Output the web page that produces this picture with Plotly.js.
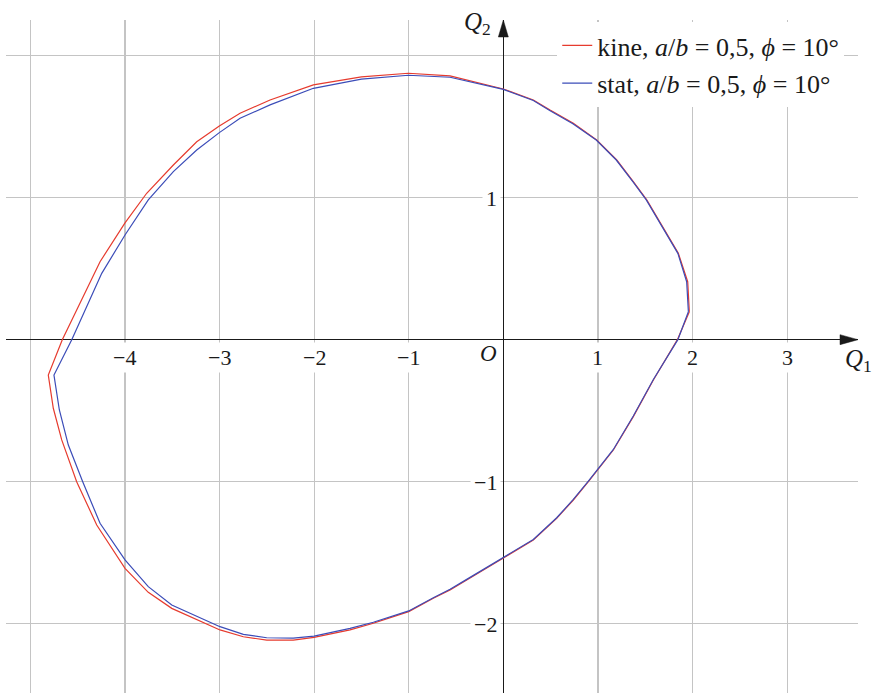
<!DOCTYPE html>
<html>
<head>
<meta charset="utf-8">
<script src="https://cdn.plot.ly/plotly-3.0.1.min.js"></script>
<style>
  html, body { margin: 0; padding: 0; background: #fff; }
  #chart { width: 873px; height: 693px; }
</style>
</head>
<body>
<div id="chart"></div>
<script>
// Yield locus in the (Q1, Q2) plane, kinematic vs static solution, a/b = 0,5, phi = 10 deg
const kineQ1 = [1.966, 1.949, 1.850, 1.674, 1.516, 1.374, 1.199, 0.987, 0.740, 0.494, 0.317, 0.000,
  -0.563, -1.004, -1.500, -2.008, -2.466, -2.783, -3.002, -3.241, -3.488, -3.770, -3.999, -4.263,
  -4.457, -4.662, -4.810, -4.757, -4.668, -4.510, -4.298, -3.999, -3.753, -3.505, -2.995, -2.748,
  -2.501, -2.220, -2.001, -1.620, -1.374, -1.000, -0.740, -0.563, -0.387, 0.000, 0.317, 0.564,
  0.740, 0.899, 1.163, 1.374, 1.586, 1.840];
const kineQ2 = [0.197, 0.408, 0.608, 0.808, 0.984, 1.113, 1.265, 1.406, 1.524, 1.617, 1.688, 1.765,
  1.857, 1.876, 1.850, 1.794, 1.688, 1.594, 1.505, 1.394, 1.230, 1.031, 0.822, 0.549,
  0.284, 0.000, -0.249, -0.483, -0.706, -1.000, -1.305, -1.610, -1.779, -1.892, -2.044, -2.092,
  -2.115, -2.115, -2.096, -2.044, -1.997, -1.915, -1.821, -1.762, -1.692, -1.540, -1.411, -1.258,
  -1.129, -1.000, -0.777, -0.542, -0.284, 0.000];

const statQ1 = [1.956, 1.938, 1.845, 1.669, 1.511, 1.369, 1.194, 0.982, 0.735, 0.490, 0.317, 0.000,
  -0.563, -1.004, -1.500, -2.008, -2.466, -2.783, -3.002, -3.241, -3.488, -3.753, -3.999, -4.245,
  -4.369, -4.562, -4.750, -4.693, -4.598, -4.446, -4.263, -3.999, -3.753, -3.505, -2.995, -2.748,
  -2.501, -2.220, -2.001, -1.620, -1.374, -1.000, -0.740, -0.563, -0.387, 0.000, 0.317, 0.564,
  0.740, 0.899, 1.163, 1.374, 1.586, 1.845];
const statQ2 = [0.197, 0.408, 0.608, 0.808, 0.984, 1.113, 1.265, 1.406, 1.520, 1.614, 1.684, 1.762,
  1.848, 1.862, 1.835, 1.770, 1.653, 1.559, 1.458, 1.336, 1.183, 0.984, 0.737, 0.467,
  0.284, 0.000, -0.249, -0.495, -0.742, -1.000, -1.293, -1.551, -1.739, -1.868, -2.021, -2.075,
  -2.099, -2.101, -2.087, -2.033, -1.990, -1.910, -1.817, -1.758, -1.688, -1.536, -1.407, -1.254,
  -1.125, -0.996, -0.773, -0.538, -0.280, 0.000];

const xTickVals = [-4, -3, -2, -1, 1, 2, 3];
const yTickVals = [-2, -1, 1];
const seriesNames = [
  'kine, <i>a</i>/<i>b</i> = 0,5, <i>ϕ</i> = 10°',
  'stat, <i>a</i>/<i>b</i> = 0,5, <i>ϕ</i> = 10°'
];

const xRange = [-5.257, 3.749];
const yRange = [-2.488, 2.251];
const serif = '"Liberation Serif", "DejaVu Serif", serif';
const ink = '#1a1a1a';

const closeLoop = a => a.concat([a[0]]);
const label = v => (v < 0 ? '\u2212' + Math.abs(v) : String(v));

const traces = [
  { x: closeLoop(kineQ1), y: closeLoop(kineQ2), name: seriesNames[0], legendgroup: 'k',
    mode: 'lines', line: { color: '#e63b2e', width: 1.2 } },
  { x: closeLoop(statQ1), y: closeLoop(statQ2), name: seriesNames[1], legendgroup: 's',
    mode: 'lines', line: { color: '#3b4cb8', width: 1.2 } }
];

const annotations = [];
xTickVals.forEach(v => annotations.push({
  x: v, y: 0, xref: 'x', yref: 'y', text: label(v), showarrow: false,
  xanchor: 'center', yanchor: 'top', yshift: -2, bgcolor: '#fff', borderpad: 2,
  font: { family: serif, size: 22, color: ink }
}));
yTickVals.forEach(v => annotations.push({
  x: 0, y: v, xref: 'x', yref: 'y', text: label(v), showarrow: false,
  xanchor: 'right', yanchor: 'middle', xshift: -2, yshift: -1, bgcolor: '#fff', borderpad: 3,
  font: { family: serif, size: 22, color: ink }
}));
annotations.push({
  x: 0, y: 0, xref: 'x', yref: 'y', text: '<i>O</i>', showarrow: false,
  xanchor: 'right', yanchor: 'top', xshift: -4, yshift: 1,
  font: { family: serif, size: 23, color: ink }
});
annotations.push({
  x: 1, y: 0, xref: 'paper', yref: 'y', text: '<i>Q</i><sub>1</sub>', showarrow: false,
  xanchor: 'center', yanchor: 'top', xshift: 0, yshift: -3,
  font: { family: serif, size: 25, color: ink }
});
annotations.push({
  x: 0, y: 1, xref: 'x', yref: 'paper', text: '<i>Q</i><sub>2</sub>', showarrow: false,
  xanchor: 'right', yanchor: 'middle', xshift: -10, yshift: -3,
  font: { family: serif, size: 25, color: ink }
});

// arrow heads at the ends of both coordinate axes
const shapes = [
  { type: 'path', xref: 'x', yref: 'y', xsizemode: 'pixel', ysizemode: 'pixel',
    xanchor: xRange[1], yanchor: 0, path: 'M0,0 L-18,5 L-18,-5 Z',
    fillcolor: ink, line: { color: ink, width: 0.5 } },
  { type: 'path', xref: 'x', yref: 'y', xsizemode: 'pixel', ysizemode: 'pixel',
    xanchor: 0, yanchor: yRange[1], path: 'M0,0 L-5,-17 L5,-17 Z',
    fillcolor: ink, line: { color: ink, width: 0.5 } }
];

const axisCommon = {
  showgrid: true, gridcolor: '#c4c4c4', gridwidth: 1.2,
  zeroline: true, zerolinecolor: ink, zerolinewidth: 1.2,
  showticklabels: false, ticks: '', showline: false, dtick: 1, tick0: 0, fixedrange: true
};

const layout = {
  width: 873, height: 693,
  margin: { l: 6, r: 15, t: 20, b: 0, pad: 0 },
  paper_bgcolor: '#fff', plot_bgcolor: '#fff',
  xaxis: Object.assign({}, axisCommon, { range: xRange }),
  yaxis: Object.assign({}, axisCommon, { range: yRange }),
  showlegend: true,
  legend: {
    x: 0.647, y: 0.997, xanchor: 'left', yanchor: 'top',
    bgcolor: '#fff', borderwidth: 0, tracegroupgap: 1,
    font: { family: serif, size: 26, color: ink }
  },
  annotations: annotations,
  shapes: shapes
};

Plotly.newPlot('chart', traces, layout, { staticPlot: true, displayModeBar: false });
</script>
</body>
</html>
